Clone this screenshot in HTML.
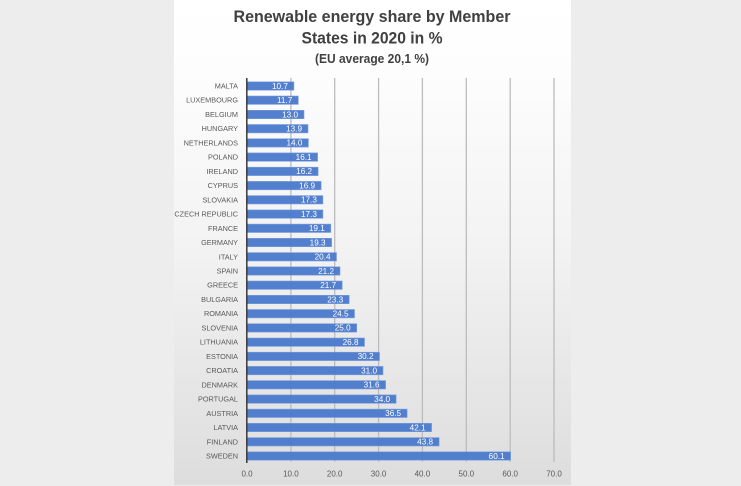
<!DOCTYPE html>
<html><head><meta charset="utf-8"><style>
html,body{margin:0;padding:0;background:#ededed;}
svg{display:block;}
text{font-family:"Liberation Sans",sans-serif;}
</style></head><body>
<svg width="741" height="486" viewBox="0 0 741 486" xmlns="http://www.w3.org/2000/svg">
<defs>
<linearGradient id="pg" x1="0" y1="0" x2="0" y2="1">
<stop offset="0" stop-color="#ffffff"/>
<stop offset="0.15" stop-color="#fdfdfd"/>
<stop offset="0.5" stop-color="#f3f3f3"/>
<stop offset="1" stop-color="#dddddd"/>
</linearGradient>
</defs>
<rect x="0" y="0" width="741" height="486" fill="#ededed"/>
<rect x="174" y="0" width="397" height="485" fill="url(#pg)"/>

<g fill="#404040" font-weight="bold" text-anchor="middle">
<text x="372" y="22" font-size="17" textLength="277" lengthAdjust="spacingAndGlyphs">Renewable energy share by Member</text>
<text x="372" y="43.5" font-size="17" textLength="141" lengthAdjust="spacingAndGlyphs">States in 2020 in %</text>
<text x="372" y="63" font-size="12.5" textLength="114" lengthAdjust="spacingAndGlyphs">(EU average 20,1 %)</text>
</g>

<g stroke="#bcbcbc" stroke-width="1.3">
<line x1="290.9" y1="78" x2="290.9" y2="462"/>
<line x1="334.7" y1="78" x2="334.7" y2="462"/>
<line x1="378.6" y1="78" x2="378.6" y2="462"/>
<line x1="422.4" y1="78" x2="422.4" y2="462"/>
<line x1="466.3" y1="78" x2="466.3" y2="462"/>
<line x1="510.2" y1="78" x2="510.2" y2="462"/>
<line x1="554.0" y1="78" x2="554.0" y2="462"/>
</g>

<g fill="#4a78cc" fill-opacity="0.95" stroke="#7da0dc" stroke-width="0.6">
<rect x="247" y="81.8" width="46.9" height="8.4"/>
<rect x="247" y="96.0" width="51.3" height="8.4"/>
<rect x="247" y="110.3" width="57.0" height="8.4"/>
<rect x="247" y="124.5" width="61.0" height="8.4"/>
<rect x="247" y="138.7" width="61.4" height="8.4"/>
<rect x="247" y="152.9" width="70.6" height="8.4"/>
<rect x="247" y="167.2" width="71.1" height="8.4"/>
<rect x="247" y="181.4" width="74.1" height="8.4"/>
<rect x="247" y="195.6" width="75.9" height="8.4"/>
<rect x="247" y="209.9" width="75.9" height="8.4"/>
<rect x="247" y="224.1" width="83.8" height="8.4"/>
<rect x="247" y="238.3" width="84.6" height="8.4"/>
<rect x="247" y="252.6" width="89.5" height="8.4"/>
<rect x="247" y="266.8" width="93.0" height="8.4"/>
<rect x="247" y="281.0" width="95.2" height="8.4"/>
<rect x="247" y="295.3" width="102.2" height="8.4"/>
<rect x="247" y="309.5" width="107.5" height="8.4"/>
<rect x="247" y="323.7" width="109.7" height="8.4"/>
<rect x="247" y="338.0" width="117.5" height="8.4"/>
<rect x="247" y="352.2" width="132.5" height="8.4"/>
<rect x="247" y="366.4" width="136.0" height="8.4"/>
<rect x="247" y="380.6" width="138.6" height="8.4"/>
<rect x="247" y="394.9" width="149.1" height="8.4"/>
<rect x="247" y="409.1" width="160.1" height="8.4"/>
<rect x="247" y="423.3" width="184.6" height="8.4"/>
<rect x="247" y="437.6" width="192.1" height="8.4"/>
<rect x="247" y="451.8" width="263.6" height="8.4"/>
</g>

<line x1="246.8" y1="78" x2="246.8" y2="463" stroke="#3a3a3a" stroke-width="1.5"/>

<g fill="#595959" font-size="7.3" text-anchor="end" dominant-baseline="central">
<text x="238" y="86.0">MALTA</text>
<text x="238" y="100.2">LUXEMBOURG</text>
<text x="238" y="114.5">BELGIUM</text>
<text x="238" y="128.7">HUNGARY</text>
<text x="238" y="142.9">NETHERLANDS</text>
<text x="238" y="157.1">POLAND</text>
<text x="238" y="171.4">IRELAND</text>
<text x="238" y="185.6">CYPRUS</text>
<text x="238" y="199.8">SLOVAKIA</text>
<text x="238" y="214.1">CZECH REPUBLIC</text>
<text x="238" y="228.3">FRANCE</text>
<text x="238" y="242.5">GERMANY</text>
<text x="238" y="256.8">ITALY</text>
<text x="238" y="271.0">SPAIN</text>
<text x="238" y="285.2">GREECE</text>
<text x="238" y="299.5">BULGARIA</text>
<text x="238" y="313.7">ROMANIA</text>
<text x="238" y="327.9">SLOVENIA</text>
<text x="238" y="342.2">LITHUANIA</text>
<text x="238" y="356.4">ESTONIA</text>
<text x="238" y="370.6">CROATIA</text>
<text x="238" y="384.8">DENMARK</text>
<text x="238" y="399.1">PORTUGAL</text>
<text x="238" y="413.3">AUSTRIA</text>
<text x="238" y="427.5">LATVIA</text>
<text x="238" y="441.8">FINLAND</text>
<text x="238" y="456.0">SWEDEN</text>
</g>

<g fill="#ffffff" font-size="8.2" text-anchor="end" dominant-baseline="central">
<text x="287.9" y="86.3">10.7</text>
<text x="292.3" y="100.5">11.7</text>
<text x="298.0" y="114.8">13.0</text>
<text x="302.0" y="129.0">13.9</text>
<text x="302.4" y="143.2">14.0</text>
<text x="311.6" y="157.4">16.1</text>
<text x="312.1" y="171.7">16.2</text>
<text x="315.1" y="185.9">16.9</text>
<text x="316.9" y="200.1">17.3</text>
<text x="316.9" y="214.4">17.3</text>
<text x="324.8" y="228.6">19.1</text>
<text x="325.6" y="242.8">19.3</text>
<text x="330.5" y="257.1">20.4</text>
<text x="334.0" y="271.3">21.2</text>
<text x="336.2" y="285.5">21.7</text>
<text x="343.2" y="299.8">23.3</text>
<text x="348.5" y="314.0">24.5</text>
<text x="350.7" y="328.2">25.0</text>
<text x="358.5" y="342.5">26.8</text>
<text x="373.5" y="356.7">30.2</text>
<text x="377.0" y="370.9">31.0</text>
<text x="379.6" y="385.1">31.6</text>
<text x="390.1" y="399.4">34.0</text>
<text x="401.1" y="413.6">36.5</text>
<text x="425.6" y="427.8">42.1</text>
<text x="433.1" y="442.1">43.8</text>
<text x="504.6" y="456.3">60.1</text>
</g>

<g fill="#595959" font-size="8" text-anchor="middle" dominant-baseline="central">
<text x="247" y="474">0.0</text>
<text x="290.9" y="474">10.0</text>
<text x="334.7" y="474">20.0</text>
<text x="378.6" y="474">30.0</text>
<text x="422.4" y="474">40.0</text>
<text x="466.3" y="474">50.0</text>
<text x="510.2" y="474">60.0</text>
<text x="554.0" y="474">70.0</text>
</g>
</svg>
</body></html>
